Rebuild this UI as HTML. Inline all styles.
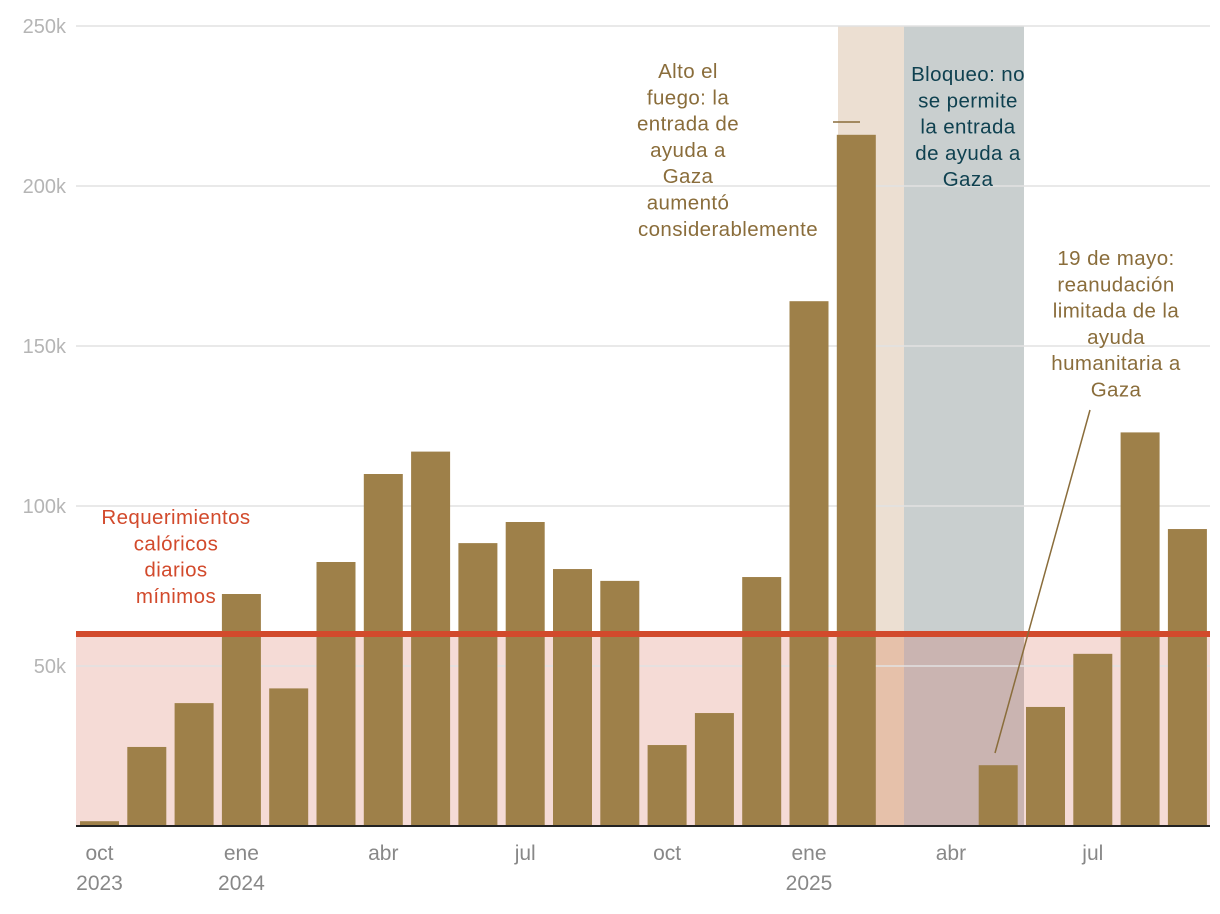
<!DOCTYPE html>
<html><head><meta charset="utf-8"><style>
body{margin:0;background:#fff;}
svg{display:block;font-family:"Liberation Sans",sans-serif;}
</style></head><body>
<svg id="chart" width="1220" height="914"></svg>
<script>
const months=["oct23","nov23","dic23","ene24","feb24","mar24","abr24","may24","jun24","jul24","ago24","sep24","oct24","nov24","dic24","ene25","feb25","mar25","abr25","may25","jun25","jul25","ago25","sep25"];
const values=[1.5,24.7,38.4,72.5,43,82.5,110,117,88.4,95,80.3,76.6,25.3,35.3,77.8,164,216,0,0,19,37.2,53.8,123,92.8];
const yTicks=[50,100,150,200,250];
const yTickLabels=["50k","100k","150k","200k","250k"];
const xTickIdx=[0,3,6,9,12,15,18,21];
const xTickLabels=["oct","ene","abr","jul","oct","ene","abr","jul"];
const xYearLabels=["2023","2024","","","","2025","",""];
const threshold=60;

const NS="http://www.w3.org/2000/svg";
const svg=document.getElementById("chart");
const x0=76,x1=1210,y0=826,yTop=26,yMax=250;
const pitch=47.3,bw=39,firstLeft=80;
const y=v=>y0-(v/yMax)*(y0-yTop);
const bx=i=>firstLeft+i*pitch;
function el(t,a,txt){const e=document.createElementNS(NS,t);for(const k in a)e.setAttribute(k,a[k]);if(txt!==undefined)e.textContent=txt;svg.appendChild(e);return e;}

let e;
const yt=y(threshold);
e=el("rect",{x:x0,y:yt,width:x1-x0,height:y0-yt,fill:"#f5dbd6"});

const tx=838,gx=904,gx2=1024;
e=el("rect",{x:tx,y:yTop,width:gx-tx,height:yt-yTop,fill:"#ecdfd2"});

e=el("rect",{x:tx,y:yt,width:gx-tx,height:y0-yt,fill:"#e6c1aa"});

e=el("rect",{x:gx,y:yTop,width:gx2-gx,height:yt-yTop,fill:"#c9cfcf"});

e=el("rect",{x:gx,y:yt,width:gx2-gx,height:y0-yt,fill:"#cab4b1"});


yTicks.forEach((t,i)=>{
 e=el("line",{x1:x0,x2:x1,y1:y(t),y2:y(t),stroke:"#e2e2e2","stroke-width":1.5});
 
 e=el("text",{x:66,y:y(t)+7,"text-anchor":"end","font-size":20,fill:"#b5b5b5"},yTickLabels[i]);
 
});

values.forEach((v,i)=>{
 if(v<=0)return;
 e=el("rect",{x:bx(i),y:y(v),width:bw,height:y0-y(v),fill:"#9e8049"});
 
});

e=el("line",{x1:x0,x2:x1,y1:yt,y2:yt,stroke:"#d24a2c","stroke-width":6});

e=el("line",{x1:x0,x2:x1,y1:y0,y2:y0,stroke:"#222","stroke-width":2});


xTickIdx.forEach((idx,i)=>{
 const cx=bx(idx)+bw/2;
 e=el("text",{x:cx,y:860,"text-anchor":"middle","font-size":21,fill:"#888"},xTickLabels[i]);
 
 if(xYearLabels[i]){
  e=el("text",{x:cx,y:890,"text-anchor":"middle","font-size":21,fill:"#888"},xYearLabels[i]);
  
 }
});

function block(lines,cxs,top,color,name){
 lines.forEach((l,i)=>{
  const cx=Array.isArray(cxs)?cxs[i]:cxs;
  const t=el("text",{x:cx,y:top+i*26.3,"text-anchor":"middle","font-size":20.5,"letter-spacing":0.4,fill:color},l);
  
 });
}
block(["Requerimientos","calóricos","diarios","mínimos"],176,524,"#d24a2c","threshold-annotation");
block(["Alto el","fuego: la","entrada de","ayuda a","Gaza","aumentó","considerablemente"],[688,688,688,688,688,688,728],78,"#8a6d3b","ceasefire-annotation");
block(["Bloqueo: no","se permite","la entrada","de ayuda a","Gaza"],968,81,"#0f4150","blockade-annotation");
block(["19 de mayo:","reanudación","limitada de la","ayuda","humanitaria a","Gaza"],1116,265,"#8a6d3b","resumption-annotation");

e=el("line",{x1:833,x2:860,y1:122,y2:122,stroke:"#8a6d3b","stroke-width":1.5});

e=el("line",{x1:1090,x2:995,y1:410,y2:753,stroke:"#8a6d3b","stroke-width":1.5});

</script>
</body></html>
